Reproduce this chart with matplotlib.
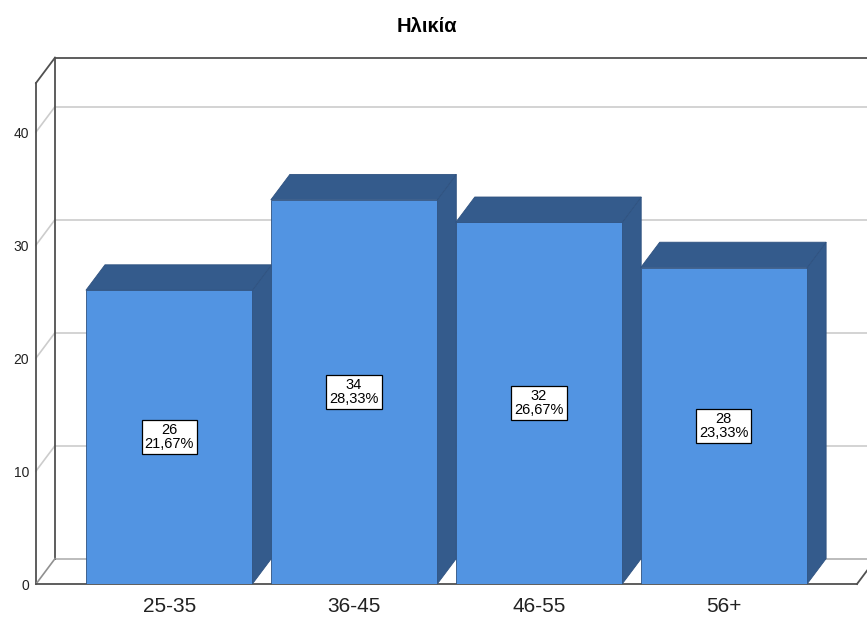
import numpy as np
import matplotlib
matplotlib.use("Agg")
import matplotlib.pyplot as plt
from matplotlib.patches import Polygon

# values
categories = ["25-35", "36-45", "46-55", "56+"]
counts = [26, 34, 32, 28]
percents = ["21,67%", "28,33%", "26,67%", "23,33%"]
yticks = [0, 10, 20, 30, 40]

front_color = "#5294e2"
dark_color = "#345b8c"
edge_color = "#2f5280"
line_dark = "#505050"
line_grid = "#cccccc"

plt.rcParams["font.family"] = ["Liberation Sans", "DejaVu Sans"]

fig = plt.figure(figsize=(8.67, 6.17), dpi=100)
ax = fig.add_axes([36 / 867, 33 / 617, 821 / 867, 501 / 617])

x0, x1 = -0.72, 3.72
ymax = 44.34
dx, dy = 0.103, 2.25   # depth offset of the 3d box
width = 0.9

ax.set_xlim(x0, x1)
ax.set_ylim(0, ymax)
for s in ax.spines.values():
    s.set_visible(False)

# back wall grid + side wall lines
for v in yticks[1:]:
    ax.plot([x0 + dx, x1 + dx + 0.2], [v + dy, v + dy], color=line_grid, lw=1.2, clip_on=False, zorder=1)
    ax.plot([x0, x0 + dx], [v, v + dy], color=line_grid, lw=1.2, clip_on=False, zorder=1)
ax.plot([x0 + dx, x1 + dx + 0.2], [dy, dy], color="#b0b0b0", lw=1.2, clip_on=False, zorder=1)
ax.plot([x0 + dx, x1 + dx + 0.2], [ymax + dy, ymax + dy], color=line_dark, lw=1.3, clip_on=False, zorder=1)
ax.plot([x0 + dx, x0 + dx], [dy, ymax + dy], color=line_dark, lw=1.3, clip_on=False, zorder=1)
ax.plot([x0, x0], [0, ymax], color=line_dark, lw=1.3, clip_on=False, zorder=1)
ax.plot([x0, x0 + dx], [ymax, ymax + dy], color=line_dark, lw=1.3, clip_on=False, zorder=1)
ax.plot([x0, x0 + dx], [0, dy], color="#909090", lw=1.2, clip_on=False, zorder=1)
ax.plot([x1, x1 + dx], [0, dy], color=line_dark, lw=1.3, clip_on=False, zorder=1)
ax.plot([x0, x1], [0, 0], color=line_dark, lw=1.3, clip_on=False, zorder=1)

# bars
xs = np.arange(len(categories))
for i, (x, v) in enumerate(zip(xs, counts)):
    z = 3 + i
    left, right = x - width / 2, x + width / 2
    side = Polygon([(right, 0), (right + dx, dy), (right + dx, v + dy), (right, v)],
                   closed=True, fc=dark_color, ec=edge_color, lw=0.6, zorder=z, clip_on=False)
    top = Polygon([(left, v), (left + dx, v + dy), (right + dx, v + dy), (right, v)],
                  closed=True, fc=dark_color, ec=edge_color, lw=0.6, zorder=z, clip_on=False)
    ax.add_patch(side)
    ax.add_patch(top)
    ax.bar(x, v, width=width, color=front_color, edgecolor=edge_color, linewidth=0.6, zorder=z)
    ax.text(x, v / 2, f"{v}\n{percents[i]}", ha="center", va="center", fontsize=10.5,
            linespacing=1.0, zorder=z + 10,
            bbox=dict(boxstyle="square,pad=0.2", fc="white", ec="black", lw=0.9))

ax.set_xticks(xs)
ax.set_xticklabels(categories, fontsize=15, color="#222222")
ax.set_yticks(yticks)
ax.set_yticklabels([str(t) for t in yticks], fontsize=10, color="#222222")
ax.tick_params(axis="x", length=0, pad=9)
ax.tick_params(axis="y", length=0, pad=5)

fig.text(427 / 867, 1 - 27 / 617, "Ηλικία", ha="center", va="center", fontsize=14.5, fontweight="bold")

fig.savefig("out.png", dpi=100)
